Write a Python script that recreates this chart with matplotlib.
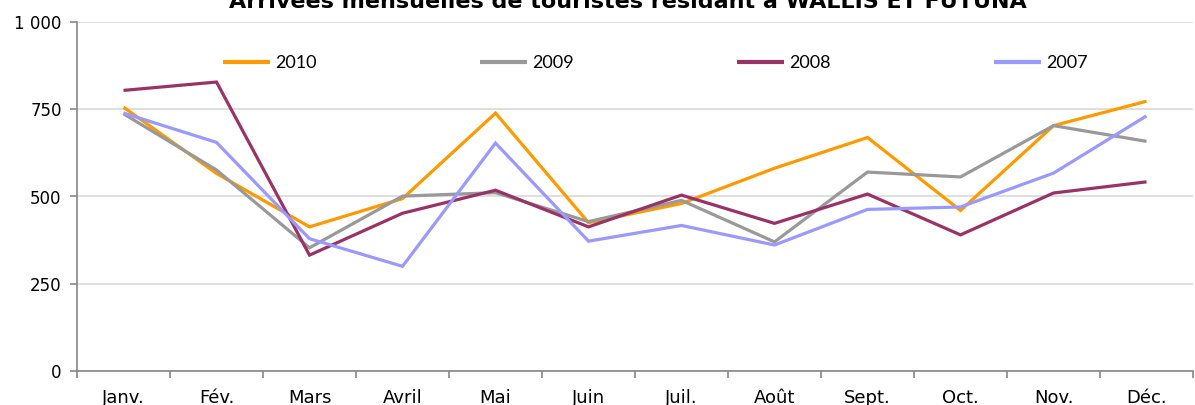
import matplotlib
matplotlib.use("Agg")
import matplotlib.pyplot as plt
from matplotlib.ticker import FixedLocator, FuncFormatter

months = ["Janv.", "Fév.", "Mars", "Avril", "Mai", "Juin", "Juil.", "Août",
          "Sept.", "Oct.", "Nov.", "Déc."]
v2010 = [756, 566, 413, 494, 739, 425, 480, 581, 669, 460, 703, 773]
v2009 = [737, 576, 353, 501, 511, 428, 489, 370, 570, 556, 703, 658]
v2008 = [804, 828, 332, 452, 518, 413, 504, 423, 507, 390, 510, 542]
v2007 = [739, 655, 379, 300, 653, 372, 417, 361, 463, 470, 567, 731]
series = [("2010", v2010, "#FF9900"), ("2009", v2009, "#999999"),
          ("2008", v2008, "#993366"), ("2007", v2007, "#9999FF")]
yticks = [0, 250, 500, 750, 1000]
title = "Arrivées mensuelles de touristes résidant à WALLIS ET FUTUNA"

W, H = 1195, 405
fig = plt.figure(figsize=(W / 100, H / 100), dpi=100)
ax = fig.add_axes([77 / W, 1 - 371 / H, (1193 - 77) / W, (371 - 22) / H])

x = list(range(len(months)))
for name, vals, col in series:
    ax.plot(x, vals, color=col, lw=2.3, label=name, solid_joinstyle="miter",
            solid_capstyle="butt")

ax.set_xlim(-0.5, len(months) - 0.5)
ax.set_ylim(0, 1000)
ax.yaxis.set_major_locator(FixedLocator(yticks))
ax.yaxis.set_major_formatter(FuncFormatter(lambda v, p: f"{int(v):,}".replace(",", " ")))
ax.grid(axis="y", color="#D9D9D9", lw=1.2)
ax.set_axisbelow(True)

ax.xaxis.set_major_locator(FixedLocator([i - 0.5 for i in range(len(months) + 1)]))
ax.xaxis.set_minor_locator(FixedLocator(x))
ax.set_xticklabels([], minor=False)
ax.set_xticklabels(months, minor=True)
ax.tick_params(axis="x", which="major", length=5, color="#868686", width=1.2)
ax.tick_params(axis="x", which="minor", length=0, pad=13, labelsize=13)
ax.tick_params(axis="y", length=5, color="#868686", width=1.2, labelsize=12, pad=6)

for s in ["top", "right"]:
    ax.spines[s].set_visible(False)
for s in ["left", "bottom"]:
    ax.spines[s].set_color("#868686")
    ax.spines[s].set_linewidth(1.2)

x0 = (223 - 77) / (1193 - 77)
x1 = (1088 - 77) / (1193 - 77)
leg = ax.legend(ncol=4, loc="center", bbox_to_anchor=(x0, 0.8825, x1 - x0, 0),
                mode="expand", frameon=False, borderpad=0, borderaxespad=0,
                handlelength=2.6, handletextpad=0.3,
                prop={"family": "Lato", "size": 13})
for line in leg.get_lines():
    line.set_linewidth(3)

fig.text(628 / W, 1 - 8 / H, title, ha="center", va="baseline",
         fontsize=16, fontweight="bold")

fig.savefig("out.png", dpi=100)
